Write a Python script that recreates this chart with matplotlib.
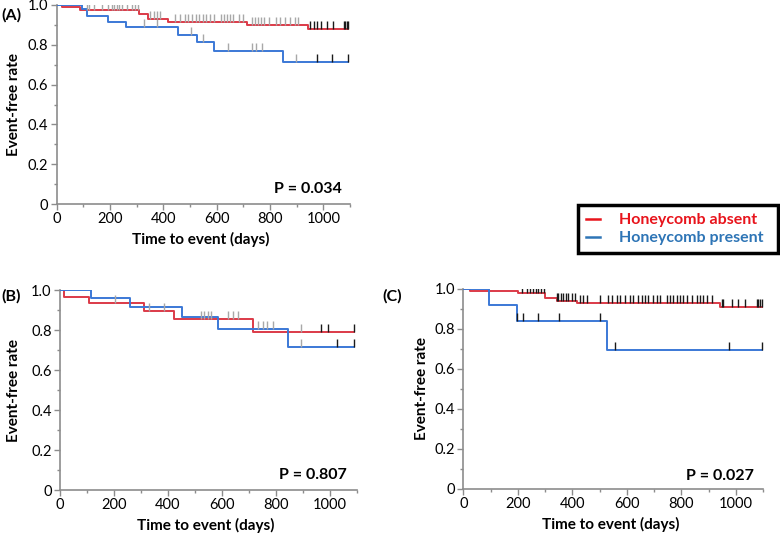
import matplotlib
matplotlib.use("Agg")
import matplotlib.pyplot as plt
from matplotlib.lines import Line2D
from matplotlib.markers import TICKUP
import numpy as np

plt.rcParams['font.family'] = ['Lato', 'DejaVu Sans']

RED = '#dc3a48'
BLUE = '#3b78d6'
GRAY = '#a8a8a8'
DARK = '#1a1a1a'
SPINE = '#8c8c8c'

# ---- panel A: step curves (time in days, event-free rate) ----
a_red_t = [0, 19, 88, 310, 344, 419, 715, 944, 1094]
a_red_s = [1.0, 0.99, 0.975, 0.955, 0.93, 0.913, 0.899, 0.878, 0.878]
a_blue_t = [0, 94, 115, 194, 259, 456, 528, 590, 850, 1094]
a_blue_s = [1.0, 0.978, 0.946, 0.916, 0.888, 0.851, 0.812, 0.769, 0.715, 0.715]
a_red_cens_gray = [112, 122, 141, 169, 194, 206, 216, 225, 234, 244, 262, 281, 294, 306,
                   350, 365, 377, 387, 444, 462, 481, 494, 506, 522, 535, 547, 560, 575,
                   590, 616, 627, 640, 650, 660, 684, 700, 731, 744, 756, 766, 779, 796,
                   821, 837, 856, 875, 894, 906]
a_red_cens_black = [950, 965, 977, 990, 1015, 1037, 1077, 1082, 1087, 1094]
a_blue_cens_gray = [327, 375, 502, 550, 644, 734, 746, 771, 897]
a_blue_cens_black = [975, 1031, 1094]

# ---- panel B ----
b_red_t = [0, 15, 108, 310, 424, 714, 1088]
b_red_s = [1.0, 0.967, 0.934, 0.897, 0.854, 0.789, 0.789]
b_blue_t = [0, 115, 258, 453, 587, 846, 1088]
b_blue_s = [1.0, 0.958, 0.917, 0.864, 0.804, 0.717, 0.717]
b_red_cens_gray = [203, 328, 387, 523, 535, 547, 559, 621, 639, 658, 891]
b_red_cens_black = [965, 992, 1088]
b_blue_cens_gray = [735, 750, 768, 789, 891]
b_blue_cens_black = [1027, 1088]

# ---- panel C ----
c_red_t = [0, 25, 200, 300, 342, 416, 941, 1094]
c_red_s = [1.0, 0.99, 0.98, 0.955, 0.94, 0.93, 0.91, 0.91]
c_blue_t = [0, 95, 196, 526, 1094]
c_blue_s = [1.0, 0.92, 0.837, 0.695, 0.695]
c_red_cens_black = [215, 232, 245, 255, 265, 275, 285, 295, 342, 348, 357, 367, 377, 385,
                    397, 410, 428, 440, 452, 501, 532, 544, 562, 575, 593, 611, 624, 642,
                    654, 666, 678, 697, 709, 721, 746, 758, 770, 782, 795, 807, 819, 838,
                    856, 868, 880, 892, 911, 948, 953, 984, 1008, 1033, 1076, 1082, 1088, 1094]
c_blue_cens_black = [196, 220, 275, 352, 501, 556, 975, 1094]

p_values = ['P = 0.034', 'P = 0.807', 'P = 0.027']
panel_letters = ['(A)', '(B)', '(C)']
legend_labels = ['Honeycomb absent', 'Honeycomb present']


def step_value(t, s, x):
    idx = np.searchsorted(t, x, side='right') - 1
    return np.asarray(s)[np.clip(idx, 0, len(s) - 1)]


def curve(ax, t, s, color, cens_gray, cens_black):
    ax.step(t, s, where='post', color=color, lw=1.4, zorder=3)
    for cens, c in ((cens_gray, GRAY), (cens_black, DARK)):
        if cens:
            ax.plot(cens, step_value(t, s, cens), ls='none', marker=TICKUP,
                    ms=6, mew=1.0, color=c, zorder=4)


def setup(ax, ptxt, ylab_x, pxy):
    ax.set_xlim(0, 1100)
    ax.set_ylim(0, 1.0)
    ax.set_xticks(range(0, 1001, 200))
    ax.set_xticks(range(0, 1101, 100), minor=True)
    ax.set_yticks([0, 0.2, 0.4, 0.6, 0.8, 1.0])
    ax.set_yticklabels(['0', '0.2', '0.4', '0.6', '0.8', '1.0'])
    ax.set_yticks(np.arange(0, 1.01, 0.1), minor=True)
    for side in ('top', 'right'):
        ax.spines[side].set_visible(False)
    for side in ('left', 'bottom'):
        ax.spines[side].set_color(SPINE)
        ax.spines[side].set_linewidth(1.2)
    ax.tick_params(which='major', length=4, width=1, color=SPINE, labelsize=10.5, pad=2)
    ax.tick_params(which='minor', length=2.5, width=1, color=SPINE)
    ax.set_xlabel('Time to event (days)', fontsize=11, fontweight='bold')
    ax.set_ylabel('Event-free rate', fontsize=11, fontweight='bold')
    ax.xaxis.set_label_coords(0.49, -0.14)
    ax.yaxis.set_label_coords(ylab_x, 0.5)
    ax.text(pxy[0], pxy[1], ptxt, transform=ax.transAxes, ha='right', va='center',
            fontsize=11.5, fontweight='bold')


fig = plt.figure(figsize=(7.8, 5.35), dpi=100)
W, H = 780.0, 535.0

axA = fig.add_axes([56.7 / W, 1 - 204 / H, 293.3 / W, 199 / H])
axB = fig.add_axes([60 / W, 1 - 490 / H, 297 / W, 200 / H])
axC = fig.add_axes([463.3 / W, 1 - 489 / H, 300 / W, 200.5 / H])

curve(axA, a_red_t, a_red_s, RED, a_red_cens_gray, a_red_cens_black)
curve(axA, a_blue_t, a_blue_s, BLUE, a_blue_cens_gray, a_blue_cens_black)
curve(axB, b_red_t, b_red_s, RED, b_red_cens_gray, b_red_cens_black)
curve(axB, b_blue_t, b_blue_s, BLUE, b_blue_cens_gray, b_blue_cens_black)
curve(axC, c_red_t, c_red_s, RED, [], c_red_cens_black)
curve(axC, c_blue_t, c_blue_s, BLUE, [], c_blue_cens_black)

setup(axA, p_values[0], -0.122, (0.972, 0.075))
setup(axB, p_values[1], -0.131, (0.965, 0.075))
setup(axC, p_values[2], -0.115, (0.967, 0.065))

fig.text(1 / W, 1 - 15 / H, panel_letters[0], ha='left', va='center', fontsize=11.5, fontweight='bold')
fig.text(1 / W, 1 - 296 / H, panel_letters[1], ha='left', va='center', fontsize=11.5, fontweight='bold')
fig.text(382 / W, 1 - 296 / H, panel_letters[2], ha='left', va='center', fontsize=11.5, fontweight='bold')

handles = [Line2D([], [], color='#e8141c', lw=1.8), Line2D([], [], color='#2e75b6', lw=1.8)]
leg = fig.legend(handles, legend_labels, loc='upper left',
                 bbox_to_anchor=(578 / W, 1 - 254 / H, 200 / W, 49 / H), mode='expand',
                 fancybox=False, edgecolor='black', framealpha=1,
                 prop={'weight': 'bold', 'size': 11.5}, handlelength=0.85,
                 handletextpad=1.2, borderpad=0.5, labelspacing=0.25, borderaxespad=0)
leg.get_frame().set_linewidth(2.5)
for txt, c in zip(leg.get_texts(), ['#e8141c', '#2e75b6']):
    txt.set_color(c)

fig.savefig('out.png', dpi=100)
